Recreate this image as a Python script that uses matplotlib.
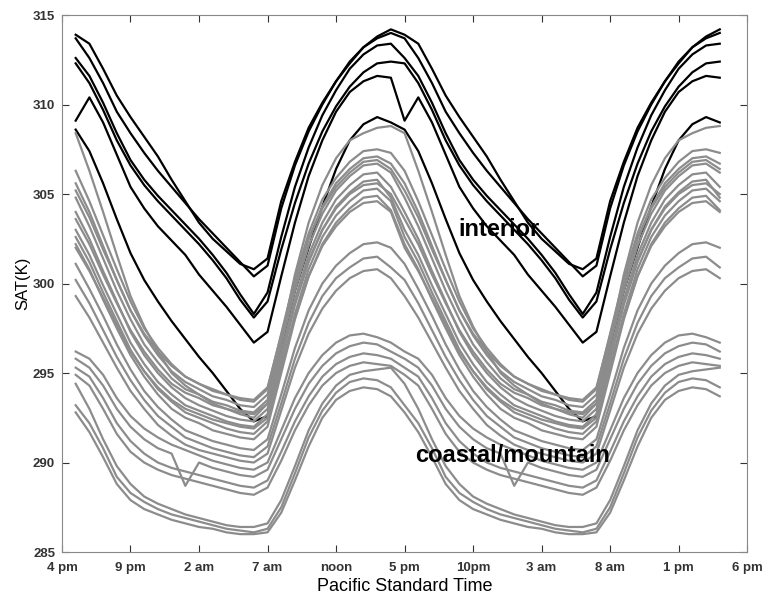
import numpy as np
import matplotlib
matplotlib.use('Agg')
import matplotlib.pyplot as plt

plt.rcParams['font.family'] = ['Liberation Sans', 'DejaVu Sans']

# hourly diurnal cycle, 5 pm (hour 1) .. 4 pm (hour 24); plotted over two days
hours = np.arange(1, 49)

interior = [
    [313.9, 313.4, 312.0, 310.5, 309.3, 308.2, 307.1, 305.8, 304.6, 303.4, 302.5, 301.8,
     301.1, 300.8, 301.4, 304.6, 306.8, 308.7, 310.1, 311.3, 312.3, 313.2, 313.8, 314.2],
    [313.7, 312.6, 311.2, 309.6, 308.4, 307.3, 306.3, 305.4, 304.5, 303.6, 302.8, 302.0,
     301.2, 300.4, 301.0, 304.2, 306.6, 308.5, 310.0, 311.3, 312.4, 313.2, 313.7, 314.0],
    [312.6, 311.6, 310.1, 308.4, 306.9, 305.8, 304.9, 304.1, 303.3, 302.5, 301.6, 300.6,
     299.4, 298.3, 299.5, 302.6, 305.4, 307.6, 309.4, 310.8, 312.0, 312.8, 313.3, 313.4],
    [312.3, 311.2, 309.7, 308.0, 306.6, 305.5, 304.6, 303.8, 303.0, 302.2, 301.3, 300.3,
     299.1, 298.1, 299.0, 301.9, 304.5, 306.7, 308.5, 309.9, 311.0, 311.8, 312.3, 312.4],
    [309.1, 310.4, 309.0, 307.2, 305.4, 304.2, 303.2, 302.4, 301.6, 300.5, 299.6, 298.7,
     297.7, 296.7, 297.3, 300.4, 303.4, 306.0, 308.0, 309.6, 310.7, 311.3, 311.6, 311.5],
    [308.6, 307.4, 305.6, 303.6, 301.7, 300.2, 299.0, 297.9, 296.9, 295.9, 295.0, 294.0,
     293.0, 292.3, 292.6, 296.5, 299.6, 302.0, 304.3, 306.4, 308.0, 308.9, 309.3, 309.0],
]

coastal = [
    [308.4, 306.3, 304.0, 301.6, 299.3, 297.6, 296.2, 295.0, 294.3, 293.8, 293.3, 293.0,
     292.7, 292.5, 293.3, 296.9, 300.5, 303.4, 305.5, 307.0, 308.0, 308.4, 308.7, 308.8],
    [306.3, 304.6, 302.7, 300.8, 299.0, 297.5, 296.4, 295.5, 294.8, 294.4, 294.0, 293.8,
     293.5, 293.4, 294.1, 297.2, 300.3, 302.8, 304.7, 305.9, 306.8, 307.4, 307.5, 307.3],
    [305.6, 304.0, 302.1, 300.2, 298.5, 297.1, 296.0, 295.1, 294.5, 294.1, 293.7, 293.5,
     293.2, 293.1, 293.8, 296.9, 300.0, 302.5, 304.3, 305.6, 306.4, 307.0, 307.1, 306.7],
    [305.2, 303.7, 301.9, 300.2, 298.5, 297.2, 296.2, 295.4, 294.8, 294.4, 294.1, 293.8,
     293.6, 293.5, 294.2, 297.1, 300.1, 302.5, 304.2, 305.4, 306.2, 306.8, 306.9, 306.4],
    [304.8, 303.2, 301.4, 299.6, 298.0, 296.6, 295.6, 294.7, 294.1, 293.8, 293.4, 293.2,
     292.9, 292.8, 293.5, 296.6, 299.6, 302.1, 303.9, 305.2, 306.0, 306.6, 306.7, 306.2],
    [304.0, 302.5, 300.7, 299.0, 297.3, 296.0, 295.0, 294.2, 293.6, 293.2, 292.9, 292.6,
     292.4, 292.3, 293.0, 296.1, 299.1, 301.6, 303.4, 304.7, 305.5, 306.1, 306.2, 305.4],
    [303.6, 302.2, 300.5, 298.9, 297.4, 296.2, 295.2, 294.4, 293.9, 293.6, 293.2, 293.0,
     292.8, 292.7, 293.3, 296.2, 299.0, 301.3, 303.0, 304.2, 305.0, 305.5, 305.6, 305.0],
    [303.0, 301.6, 299.9, 298.3, 296.7, 295.5, 294.5, 293.8, 293.2, 292.9, 292.6, 292.3,
     292.1, 292.0, 292.7, 295.7, 298.8, 301.2, 303.0, 304.3, 305.1, 305.7, 305.8, 304.8],
    [302.6, 301.2, 299.5, 297.9, 296.3, 295.1, 294.1, 293.4, 292.8, 292.5, 292.2, 291.9,
     291.7, 291.6, 292.3, 295.3, 298.3, 300.8, 302.6, 303.8, 304.6, 305.2, 305.3, 304.6],
    [302.2, 300.8, 299.1, 297.5, 296.0, 294.8, 293.8, 293.0, 292.5, 292.2, 291.8, 291.6,
     291.4, 291.3, 292.0, 295.0, 298.0, 300.4, 302.2, 303.4, 304.2, 304.8, 304.9, 304.1],
    [302.0, 300.7, 299.2, 297.7, 296.2, 295.1, 294.2, 293.5, 293.0, 292.7, 292.4, 292.2,
     292.0, 291.9, 292.5, 295.3, 298.1, 300.4, 302.1, 303.2, 304.0, 304.5, 304.6, 304.0],
    [301.1, 299.7, 298.2, 296.6, 295.2, 294.0, 293.1, 292.4, 291.8, 291.5, 291.2, 291.0,
     290.8, 290.7, 291.3, 293.8, 296.4, 298.5, 300.0, 301.0, 301.7, 302.2, 302.3, 302.0],
    [300.2, 298.9, 297.4, 295.9, 294.6, 293.5, 292.6, 292.0, 291.4, 291.1, 290.8, 290.6,
     290.4, 290.3, 290.9, 293.3, 295.8, 297.8, 299.3, 300.3, 300.9, 301.4, 301.5, 300.9],
    [299.3, 298.1, 296.7, 295.3, 294.0, 293.0, 292.1, 291.5, 291.0, 290.7, 290.5, 290.3,
     290.1, 290.0, 290.5, 292.9, 295.3, 297.2, 298.6, 299.6, 300.3, 300.7, 300.8, 300.3],
    # low-amplitude coastal / mountain sites
    [296.2, 295.8, 294.9, 293.6, 292.6, 291.9, 291.4, 291.0, 290.7, 290.4, 290.1, 289.9,
     289.7, 289.6, 290.0, 291.8, 293.6, 295.0, 296.0, 296.7, 297.1, 297.2, 297.0, 296.7],
    [295.8, 295.3, 294.3, 293.0, 292.0, 291.3, 290.8, 290.5, 288.7, 290.0, 289.7, 289.5,
     289.3, 289.2, 289.6, 291.3, 293.0, 294.4, 295.4, 296.1, 296.5, 296.7, 296.6, 296.2],
    [295.3, 294.8, 293.6, 292.2, 291.2, 290.5, 290.0, 289.7, 289.5, 289.3, 289.1, 288.9,
     288.7, 288.6, 289.0, 290.6, 292.3, 293.7, 294.8, 295.5, 295.9, 296.1, 296.0, 295.8],
    [294.9, 294.3, 293.0, 291.6, 290.6, 290.0, 289.6, 289.3, 289.1, 288.9, 288.7, 288.5,
     288.3, 288.2, 288.6, 290.1, 291.8, 293.2, 294.3, 295.0, 295.4, 295.6, 295.5, 295.4],
    [294.4, 293.0, 291.3, 289.8, 288.8, 288.1, 287.7, 287.4, 287.1, 286.9, 286.7, 286.5,
     286.4, 286.4, 286.6, 287.9, 289.8, 291.8, 293.3, 294.3, 294.9, 295.1, 295.2, 295.3],
    [293.2, 292.2, 290.8, 289.2, 288.3, 287.8, 287.4, 287.1, 286.9, 286.7, 286.5, 286.3,
     286.2, 286.1, 286.3, 287.5, 289.4, 291.4, 292.9, 293.9, 294.5, 294.7, 294.6, 294.2],
    [292.8, 291.7, 290.3, 288.8, 287.9, 287.4, 287.1, 286.8, 286.6, 286.4, 286.3, 286.1,
     286.0, 286.0, 286.1, 287.2, 289.0, 290.9, 292.5, 293.5, 294.0, 294.2, 294.1, 293.7],
]

tick_pos = [0, 5, 10, 15, 20, 25, 30, 35, 40, 45, 50]
tick_labels = ['4 pm', '9 pm', '2 am', '7 am', 'noon', '5 pm', '10pm', '3 am', '8 am', '1 pm', '6 pm']

fig = plt.figure(figsize=(7.69, 6.02), dpi=100)
ax = fig.add_axes([0.0806, 0.083, 0.891, 0.892])

for v in interior:
    ax.plot(hours, np.concatenate([v, v]), color='black', lw=1.6)
for v in coastal:
    ax.plot(hours, np.concatenate([v, v]), color='#8c8c8c', lw=1.6)

ax.set_xlim(0, 50)
ax.set_ylim(285, 315)
ax.set_xticks(tick_pos)
ax.set_xticklabels(tick_labels, fontweight='bold', fontsize=9.5)
ax.set_yticks(range(285, 316, 5))
ax.set_yticklabels([str(t) for t in range(285, 316, 5)], fontweight='bold', fontsize=9.5)
ax.tick_params(direction='in', top=True, right=True, length=5, width=0.8, colors='#333333')
ax.tick_params(axis='x', pad=7)
ax.tick_params(axis='y', pad=5)
for s in ax.spines.values():
    s.set_color('#888888')
    s.set_linewidth(0.8)

ax.set_xlabel('Pacific Standard Time', fontsize=13, labelpad=3)
ax.set_ylabel('SAT(K)', fontsize=12, labelpad=2)

ax.text(28.9, 303.0, 'interior', fontsize=17, fontweight='bold', ha='left', va='center')
ax.text(25.8, 290.4, 'coastal/mountain', fontsize=17, fontweight='bold', ha='left', va='center')

fig.savefig('out.png', dpi=100)
